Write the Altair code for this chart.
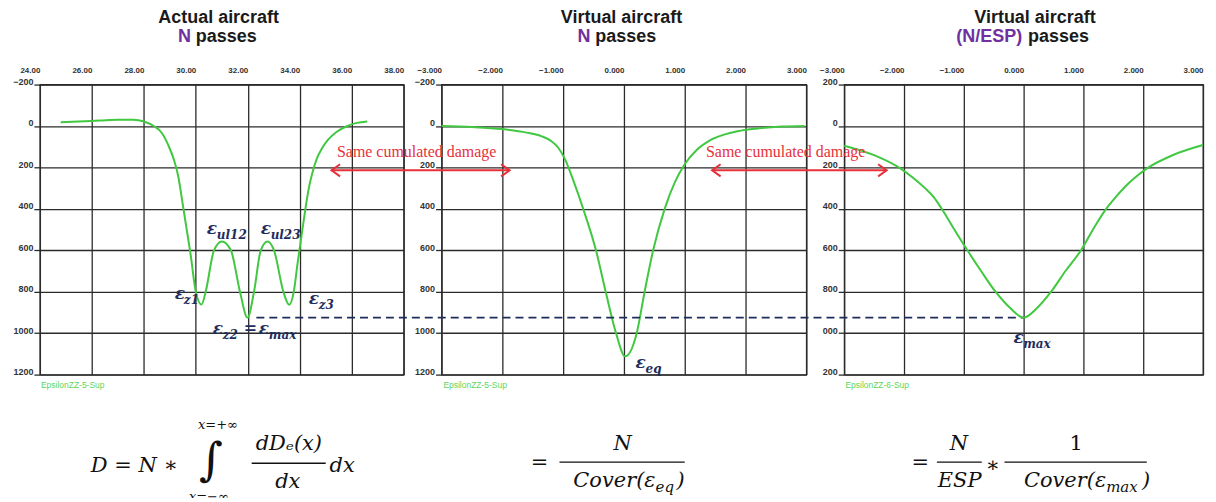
import altair as alt
import pandas as pd

# ---------------- data ----------------
# Panel 1 : actual aircraft (x in m, strain in microdef, axis reversed)
act_x = [24.8, 25.5, 26.3, 27.0, 27.6, 28.0, 28.38, 28.7, 28.95, 29.15, 29.32, 29.5, 29.65, 29.8, 30.0,
         30.22, 30.38, 30.7, 31.0, 31.35, 31.7, 31.99, 32.24, 32.5, 32.76, 33.01, 33.37, 33.59,
         33.77, 33.92, 34.08, 34.23, 34.35, 34.49, 34.65, 34.87, 35.1, 35.4, 35.83, 36.2, 36.6]
act_y = [-18, -22, -26, -30, -30, -22, 0, 35, 95, 160, 240, 380, 500, 620, 800,
         862, 800, 600, 557, 600, 800, 925, 800, 600, 557, 600, 800, 863,
         800, 660, 520, 390, 300, 225, 160, 105, 65, 30, 0, -15, -22]
# Panel 2 : virtual aircraft, N passes
veq_x = [-3.0, -2.5, -2.0, -1.6, -1.35, -1.2, -1.08, -0.97, -0.83, -0.67, -0.46, -0.30, -0.13, 0.02,
         0.21, 0.34, 0.48, 0.67, 0.84, 1.0, 1.2, 1.4, 1.8, 2.2, 2.6, 2.97]
veq_y = [0, 5, 15, 32, 50, 72, 105, 160, 265, 400, 600, 800, 1000, 1112,
         1000, 800, 600, 400, 270, 185, 115, 72, 30, 12, 3, 0]
# Panel 3 : virtual aircraft, N/ESP passes
vmax_x = [-3.0, -2.5, -2.05, -1.85, -1.65, -1.5, -1.38, -1.2, -0.94, -0.7, -0.47, -0.22, 0.0,
          0.22, 0.46, 0.7, 0.96, 1.2, 1.38, 1.55, 1.7, 1.9, 2.09, 2.5, 3.0]
vmax_y = [95, 141, 207, 250, 300, 345, 395, 480, 600, 705, 800, 880, 925,
          880, 800, 700, 600, 480, 400, 340, 292, 240, 200, 140, 92]

x1_ticks = [24, 26, 28, 30, 32, 34, 36, 38]
x23_ticks = [-3, -2, -1, 0, 1, 2, 3]
y_ticks = [-200, 0, 200, 400, 600, 800, 1000, 1200]

titles_1 = ["Actual aircraft", "N", "passes"]
titles_2 = ["Virtual aircraft", "N", "passes"]
titles_3 = ["Virtual aircraft", "(N/ESP)", "passes"]
damage_text = "Same cumulated damage"
eps_max_level = 925

# ---------------- styling ----------------
GREEN = "#40c840"
NAVY = "#1f2d5c"
RED = "#e8303a"
PURPLE = "#7030a0"
GRID = "#2b2b2b"
SANS = "Liberation Sans"
SERIF = "DejaVu Serif"
H = 291
W1, W2, W3 = 365, 366, 360
SP = 38
T1, T2 = -519, -428   # title rows (in strain units above the plot)


class Panel:
    def __init__(self, xdom, xticks, xfmt, ylab_expr=None):
        self.xs = alt.Scale(domain=xdom, nice=False, zero=False)
        self.ys = alt.Scale(domain=[-200, 1200], reverse=True, nice=False, zero=False)
        xax = dict(values=xticks, format=xfmt, orient="top", ticks=False, tickSize=0,
                   labelPadding=10, labelAlign="right", labelFlush=False, labelFontSize=8,
                   labelFontWeight="bold", labelColor="#333", labelFont=SANS, domain=False,
                   grid=True, gridColor=GRID, gridWidth=1.3, title=None, labelOverlap=False)
        yax = dict(values=y_ticks, format="d", orient="left", tickSize=6, labelPadding=1,
                   labelBaseline="alphabetic", labelFontSize=9, labelFontWeight="bold",
                   labelColor="#333", labelFont=SANS, domain=False, grid=True, gridColor=GRID,
                   gridWidth=1.3, tickColor=GRID, tickWidth=1.3, title=None, labelOverlap=False)
        if ylab_expr:
            yax["labelExpr"] = ylab_expr
        self.xax = alt.Axis(**xax)
        self.yax = alt.Axis(**yax)
        self.layers = []

    def X(self, f="x:Q"):
        return alt.X(f, scale=self.xs, axis=self.xax)

    def Y(self, f="y:Q"):
        return alt.Y(f, scale=self.ys, axis=self.yax)

    def curve(self, xv, yv):
        df = pd.DataFrame({"x": xv, "y": yv})
        self.layers.append(alt.Chart(df).mark_line(color=GREEN, strokeWidth=2,
                                                   interpolate="monotone")
                           .encode(x=self.X(), y=self.Y()))

    def txt(self, x, y, t, **kw):
        df = pd.DataFrame({"x": [x], "y": [y], "t": [t]})
        kw.setdefault("baseline", "middle")
        self.layers.append(alt.Chart(df).mark_text(**kw).encode(
            x=self.X(), y=self.Y(), text=alt.Text("t:N")))

    def hrule(self, x, x2, y, **kw):
        df = pd.DataFrame({"x": [x], "x2": [x2], "y": [y]})
        self.layers.append(alt.Chart(df).mark_rule(**kw).encode(
            x=self.X(), x2="x2:Q", y=self.Y()))

    def arrow(self, x, x2, y):
        self.hrule(x, x2, y, color=RED, strokeWidth=2)
        for xv, shp in ((x, "M1.4,-1L0,0L1.4,1"), (x2, "M-1.4,-1L0,0L-1.4,1")):
            df = pd.DataFrame({"x": [xv], "y": [y]})
            self.layers.append(alt.Chart(df).mark_point(
                shape=shp, filled=False, color=RED, strokeWidth=2, size=150, opacity=1
            ).encode(x=self.X(), y=self.Y()))

    def eps(self, x, y, sub, sx, sy):
        self.txt(x, y, "ε", align="left", font=SERIF, fontSize=17, fontStyle="italic",
                 fontWeight="bold", color=NAVY)
        self.txt(sx, sy, sub, align="left", font=SERIF, fontSize=12, fontStyle="italic",
                 fontWeight="bold", color=NAVY)

    def titles(self, xc, xr, xl, t):
        self.txt(xc, T1, t[0], align="center", font=SANS, fontSize=18, fontWeight="bold",
                 color="#1a1a1a")
        self.txt(xr, T2, t[1], align="right", font=SANS, fontSize=18, fontWeight="bold",
                 color=PURPLE)
        self.txt(xl, T2, t[2], align="left", font=SANS, fontSize=18, fontWeight="bold",
                 color="#1a1a1a")

    def f(self, x, y, t, size=21, align="center", style="italic"):
        self.txt(x, y, t, align=align, font=SERIF, fontSize=size, fontStyle=style, color="#111")

    def frule(self, x, x2, y):
        self.hrule(x, x2, y, color="#111", strokeWidth=1.3)

    def chart(self, w):
        return alt.layer(*self.layers).properties(width=w, height=H)


# ---------------- panel 1 ----------------
p1 = Panel([24, 38], x1_ticks, ".2f")
p1.curve(act_x, act_y)
p1.titles(30.88, 29.81, 30.0, titles_1)
p1.eps(29.19, 811, "z1", 29.54, 839)
p1.eps(30.42, 497, "ul12", 30.81, 526)
p1.eps(32.50, 497, "ul23", 32.88, 526)
p1.eps(30.65, 978, "z2", 31.04, 1007)
p1.eps(32.42, 978, "max", 32.81, 1007)
p1.eps(34.35, 834, "z3", 34.73, 863)
p1.txt(31.85, 974, "=", align="left", font=SERIF, fontSize=16, fontWeight="bold", color=NAVY)
p1.txt(24.04, 1252, "EpsilonZZ-5-Sup", align="left", font=SANS, fontSize=8.5, color="#5cd65c")
# formula 1
p1.f(25.96, 1642, "D = N ∗", align="left")
p1.f(30.58, 1618, "∫", size=46, style="normal")
p1.f(30.85, 1445, "x=+∞", size=13)
p1.f(30.50, 1791, "x=−∞", size=13)
p1.f(33.58, 1536, "dDₑ(x)")
p1.frule(32.15, 35.0, 1628)
p1.f(33.54, 1719, "dx")
p1.f(35.15, 1642, "dx", align="left")

# ---------------- panel 2 ----------------
p2 = Panel([-3, 3], x23_ticks, ".3f")
p2.curve(veq_x, veq_y)
p2.titles(-0.04, -0.55, -0.47, titles_2)
p2.eps(0.19, 1142, "eq", 0.355, 1171)
p2.txt(-2.97, 1252, "EpsilonZZ-5-Sup", align="left", font=SANS, fontSize=8.5, color="#5cd65c")
p2.arrow(-4.81, -1.88, 214)
p2.txt(-3.41, 127, damage_text, align="center", font="Liberation Serif", fontSize=16, color=RED)
# formula 2
p2.f(-1.39, 1628, "=", style="normal")
p2.f(-0.02, 1536, "N")
p2.frule(-1.06, 1.0, 1623)
p2.f(0.52, 1714, "Cover(ε", align="right")
p2.f(0.52, 1743, "eq", size=15, align="left")
p2.f(0.865, 1714, ")", align="left")

# ---------------- panel 3 ----------------
trunc = "datum.value < 0 || datum.value >= 1000 ? slice(datum.label, 1) : datum.label"
p3 = Panel([-3, 3], x23_ticks, ".3f", trunc)
p3.hrule(-12.83, 0.0, eps_max_level, color=NAVY, strokeWidth=1.6, strokeDash=[8, 5])
p3.curve(vmax_x, vmax_y)
p3.titles(0.19, -0.025, 0.074, titles_3)
p3.eps(-0.17, 1022, "max", -0.008, 1051)
p3.txt(-2.98, 1250, "EpsilonZZ-6-Sup", align="left", font=SANS, fontSize=8.5, color="#5cd65c")
p3.arrow(-5.21, -2.29, 214)
p3.txt(-3.98, 127, damage_text, align="center", font="Liberation Serif", fontSize=16, color=RED)
# formula 3
p3.f(-1.73, 1628, "=", style="normal")
p3.f(-1.08, 1536, "N")
p3.frule(-1.45, -0.70, 1623)
p3.f(-1.07, 1714, "ESP")
p3.f(-0.52, 1642, "∗", style="normal")
p3.f(0.88, 1536, "1", style="normal")
p3.frule(-0.32, 2.06, 1623)
p3.f(1.38, 1714, "Cover(ε", align="right")
p3.f(1.38, 1743, "max", size=15, align="left")
p3.f(1.98, 1714, ")", align="left")

chart = (
    alt.hconcat(p1.chart(W1), p2.chart(W2), p3.chart(W3), spacing=SP, bounds="flush")
    .properties(padding={"left": 4, "top": 0, "right": 0, "bottom": -8})
    .configure_view(stroke=GRID, strokeWidth=1.3, fill="white")
)

chart.save("out.html", embed_options={"renderer": "svg", "actions": False})
